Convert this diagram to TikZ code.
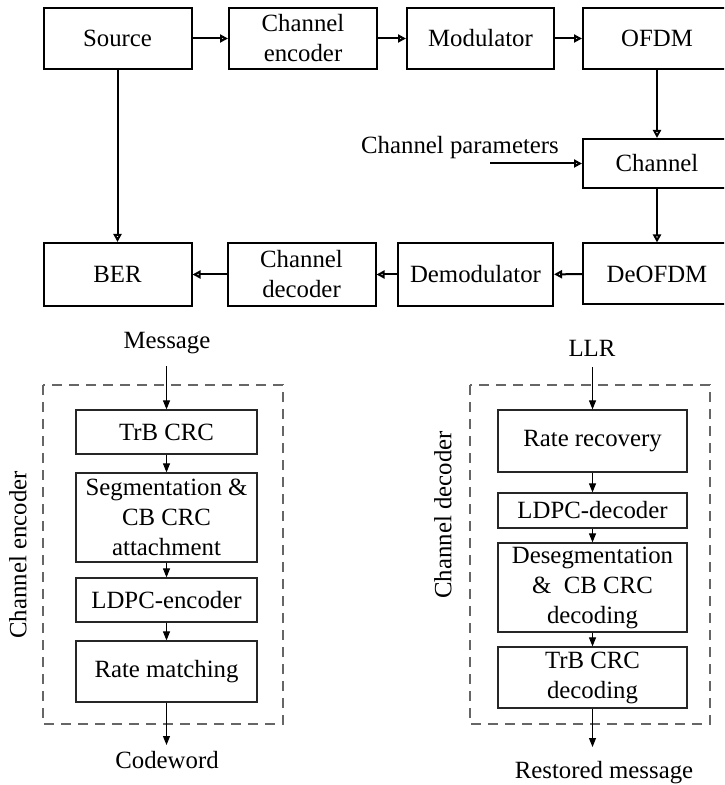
\documentclass[tikz,border=0pt]{standalone}
\usepackage{fontspec}
\setmainfont{Liberation Serif}
\usetikzlibrary{arrows.meta}

\begin{document}
\fontsize{12.4}{15}\selectfont
\begin{tikzpicture}[x=0.5pt,y=-0.5pt,
 blk/.style={draw, line width=1pt, align=center, inner sep=0pt, minimum width=74pt, minimum height=30.5pt},
 sub/.style={draw=black!85, line width=0.6pt, align=center, inner sep=0pt},
 txt/.style={inner sep=0pt, align=center},
 big/.style={line width=1pt, -{Triangle[open, length=4pt, width=4pt]}},
 small/.style={line width=0.5pt, -{Triangle[length=4.5pt, width=3.5pt]}},
 group/.style={draw=black!60, line width=0.6pt, dash pattern=on 5pt off 3.5pt}]

 \path[use as bounding box, clip] (0,0) rectangle (724,785);

 % transmitter row
 \node (src) at (117.5,38.5) [blk] {Source};
 \node (cenc) at (303,38.5) [blk] {Channel\\encoder};
 \node (mod) at (480.5,38.5) [blk, minimum width=73.5pt] {Modulator};
 \node (ofdm) at (657,38.5) [blk] {OFDM};
 \draw[big] (src) -- (cenc);
 \draw[big] (cenc) -- (mod);
 \draw[big] (mod) -- (ofdm);

 % channel
 \node (chan) at (657,163.5) [blk, minimum height=24.5pt] {Channel};
 \node (cptxt) at (460,148) [txt] {Channel parameters};
 \coordinate (cpin) at (490,163.5);
 \draw[big] (ofdm) -- (chan);
 \draw[big] (cpin) -- (chan);

 % receiver row
 \node (deofdm) at (657,274) [blk] {DeOFDM};
 \node (demod) at (475.5,274.5) [blk, minimum width=77.5pt, minimum height=31.5pt] {Demodulator};
 \node (cdec) at (301.5,274.5) [blk, minimum height=31.5pt] {Channel\\decoder};
 \node (ber) at (117.5,274.5) [blk, minimum height=31.5pt] {BER};
 \draw[big] (chan) -- (deofdm);
 \draw[big] (deofdm) -- (demod);
 \draw[big] (demod) -- (cdec);
 \draw[big] (cdec) -- (ber);
 \draw[big] (src) -- (ber);

 % channel encoder detail
 \draw[group] (43,385) rectangle (283,724);
 \node (enclbl) at (18,555) [txt, rotate=90] {Channel encoder};
 \node (msg) at (167,343) [txt] {Message};
 \coordinate (msgout) at (166.5,366);
 \node (trb) at (166.5,432) [sub, minimum width=90.5pt, minimum height=22pt] {TrB CRC};
 \node (seg) at (166.5,517.5) [sub, minimum width=90.5pt, minimum height=44.5pt] {Segmentation \&\\CB CRC\\attachment};
 \node (ldpce) at (166.5,600) [sub, minimum width=90.5pt, minimum height=22pt] {LDPC-encoder};
 \node (rm) at (166.5,671.5) [sub, minimum width=90.5pt, minimum height=30.5pt] {Rate matching};
 \coordinate (cwin) at (166.5,745);
 \node (cw) at (167,760) [txt] {Codeword};
 \draw[small] (msgout) -- (trb);
 \draw[small] (trb) -- (seg);
 \draw[small] (seg) -- (ldpce);
 \draw[small] (ldpce) -- (rm);
 \draw[small] (rm) -- (cwin);

 % channel decoder detail
 \draw[group] (470,385) rectangle (710,724);
 \node (declbl) at (443,515) [txt, rotate=90] {Channel decoder};
 \node (llr) at (592,348) [txt] {LLR};
 \coordinate (llrout) at (592.5,367);
 \node (rr) at (592.5,441) [sub, minimum width=94.5pt, minimum height=31pt] {Rate recovery};
 \node (ldpcd) at (592.5,510.5) [sub, minimum width=94.5pt, minimum height=17.5pt] {LDPC-decoder};
 \node (deseg) at (592.5,587.5) [sub, minimum width=94.5pt, minimum height=44.5pt] {Desegmentation\\\&~ CB CRC\\decoding};
 \node (trbd) at (592.5,677.5) [sub, minimum width=94.5pt, minimum height=30.5pt] {TrB CRC\\decoding};
 \coordinate (rmin) at (592.5,747);
 \node (rmsg) at (604,773) [txt] {Restored message};
 \draw[small] (llrout) -- (rr);
 \draw[small] (rr) -- (ldpcd);
 \draw[small] (ldpcd) -- (deseg);
 \draw[small] (deseg) -- (trbd);
 \draw[small] (trbd) -- (rmin);
\end{tikzpicture}
\end{document}
